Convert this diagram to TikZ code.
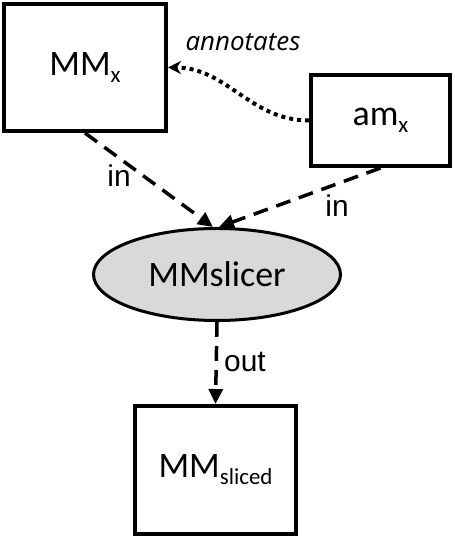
\documentclass[tikz,border=0pt]{standalone}
\usepackage{fontspec}
\setmainfont{Carlito}
\newfontfamily\edgefont{Liberation Sans}
\newfontfamily\notefont{Open Sans}
\usetikzlibrary{arrows.meta,shapes.geometric}
\newcommand{\idx}[1]{\raisebox{-7bp}{\fontsize{23}{23}\selectfont #1}}

\begin{document}
\begin{tikzpicture}[x=1bp,y=1bp]
    \useasboundingbox (0,0) rectangle (455,538);
    \tikzset{Block/.style = {draw, line width=4bp, inner sep=0pt, minimum width=162bp, minimum height=127bp, font=\fontsize{36}{36}\selectfont}}
    \tikzset{Slicer/.style = {ellipse, draw, fill=black!15, line width=3bp, inner sep=0pt, minimum width=247bp, minimum height=92bp, font=\fontsize{36}{36}\selectfont}}
    \tikzset{EdgeLabel/.style = {inner sep=0pt, font=\edgefont\fontsize{30}{30}\selectfont}}

    \node[Block] (MMx) at (85,470.5) {MM\idx{x}};
    \node[Block, minimum width=139bp, minimum height=91bp] (amx) at (380.5,417.5) {am\idx{x}};
    \node[Slicer] (slicer) at (217,263.5) {MMslicer};
    \node[Block, minimum width=161bp, minimum height=128bp] (MMsliced) at (215.5,68) {MM\idx{sliced}};

    \tikzset{EdgeStyle/.style = {line width=3.5bp, dash pattern=on 15bp off 9bp, -{Triangle[length=15bp,width=14bp]}}}
    \draw[EdgeStyle] (MMx.south) -- ([xshift=-4bp]slicer.north);
    \draw[EdgeStyle] (amx.south) -- ([xshift=2bp]slicer.north);
    \draw[EdgeStyle] (slicer.south) -- (MMsliced.north);

    \tikzset{EdgeStyle/.style = {line width=4bp, dash pattern=on 4bp off 4bp, -{Stealth[length=13bp,width=13bp]}}}
    \draw[EdgeStyle] (amx.west) to[out=180,in=0] (MMx.east);

    \node[EdgeLabel] (inMMx) at (119,362) {in};
    \node[EdgeLabel] (inamx) at (337,332) {in};
    \node[EdgeLabel] (out) at (245,176) {out};
    \node[inner sep=0pt, font=\notefont\itshape\fontsize{26}{26}\selectfont] (annot) at (243,496) {annotates};
\end{tikzpicture}
\end{document}
